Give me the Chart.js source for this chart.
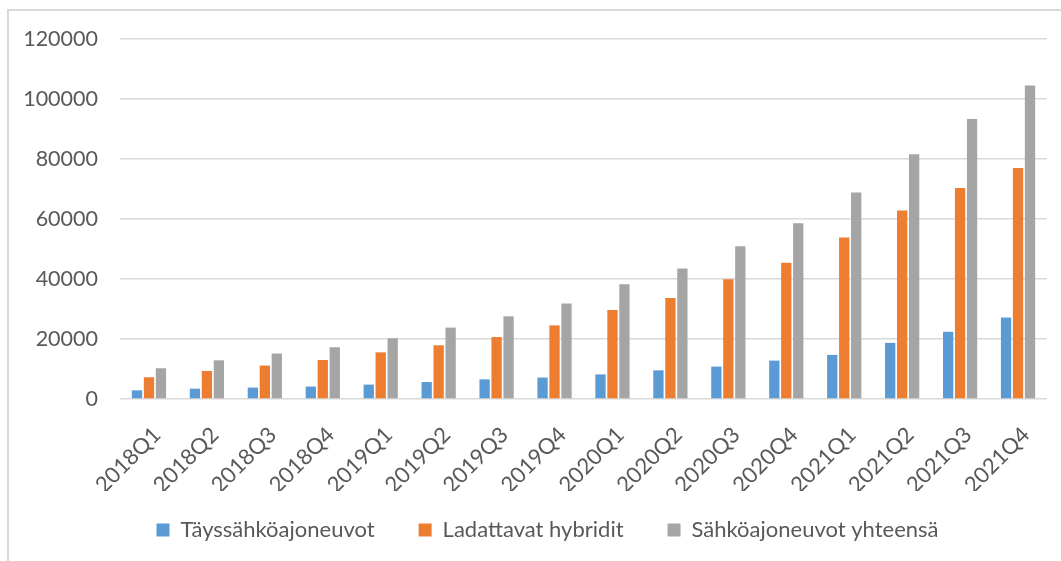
<!DOCTYPE html>
<html>
<head>
<meta charset="utf-8">
<script src="https://cdn.jsdelivr.net/npm/chart.js@4/dist/chart.umd.min.js"></script>
<style>
  html, body { margin: 0; padding: 0; background: #fff; }
  #wrap { position: relative; width: 1061px; height: 561px; overflow: hidden; }
  #frame { position: absolute; left: 7px; top: 9px; width: 1070px; height: 570px;
           border: 2px solid #d9d9d9; box-sizing: border-box; }
  canvas { position: absolute; left: 0; top: 0; }
</style>
</head>
<body>
<div id="wrap">
  <div id="frame"></div>
  <canvas id="myChart" width="1061" height="561"></canvas>
</div>
<script>
var quarters = ['2018Q1', '2018Q2', '2018Q3', '2018Q4', '2019Q1', '2019Q2', '2019Q3', '2019Q4',
                '2020Q1', '2020Q2', '2020Q3', '2020Q4', '2021Q1', '2021Q2', '2021Q3', '2021Q4'];
var taysSahko = [2900, 3450, 3800, 4150, 4800, 5650, 6550, 7150,
                 8200, 9550, 10800, 12800, 14700, 18700, 22400, 27150];
var hybridit = [7250, 9350, 11150, 13000, 15550, 17900, 20650, 24550,
                29700, 33700, 39950, 45400, 53800, 62800, 70350, 77000];
var yhteensa = [10250, 12900, 15150, 17250, 20250, 23800, 27550, 31800,
                38250, 43500, 50950, 58550, 68800, 81600, 93300, 104500];
var seriesNames = ['Täyssähköajoneuvot', 'Ladattavat hybridit', 'Sähköajoneuvot yhteensä'];
var colors = ['#5b9bd5', '#ed7d31', '#a5a5a5'];

var font = "Lato, 'Open Sans', sans-serif";
var textColor = '#595959';

function makeSet(i, values) {
    return {
        label: seriesNames[i],
        data: values,
        backgroundColor: colors[i],
        barPercentage: 0.86,
        categoryPercentage: 0.62
    };
}

// legend: fixed height, then nudged up and right after layout
var legendFix = {
    id: 'legendFix',
    beforeUpdate: function (chart) {
        if (chart.legend && !chart.legend._patched) {
            var orig = chart.legend.fit;
            chart.legend.fit = function () {
                orig.call(this);
                this.height = 70;
            };
            chart.legend._patched = true;
        }
    },
    afterLayout: function (chart) {
        var lg = chart.legend;
        lg.top -= 16; lg.bottom -= 16;
        lg.left += 24; lg.right += 24;
    }
};

var ctx = document.getElementById('myChart').getContext('2d');
var myChart = new Chart(ctx, {
    type: 'bar',
    data: {
        labels: quarters,
        datasets: [makeSet(0, taysSahko), makeSet(1, hybridit), makeSet(2, yhteensa)]
    },
    options: {
        responsive: false,
        animation: false,
        layout: { padding: { left: 0, top: 39, right: 14, bottom: 0 } },
        plugins: {
            tooltip: { enabled: false },
            legend: {
                position: 'bottom',
                labels: {
                    boxWidth: 13,
                    boxHeight: 13,
                    padding: 44,
                    color: textColor,
                    font: { family: font, size: 22 }
                }
            }
        },
        scales: {
            x: {
                grid: { display: false },
                border: { display: false },
                ticks: {
                    color: textColor,
                    font: { family: font, size: 22 },
                    minRotation: 45,
                    maxRotation: 45,
                    padding: 15,
                    labelOffset: 8
                },
                afterFit: function (scale) { scale.height = 92; }
            },
            y: {
                min: 0,
                max: 120000,
                grid: { color: '#d9d9d9', lineWidth: 1.5, drawTicks: false },
                border: { display: false },
                ticks: {
                    stepSize: 20000,
                    color: textColor,
                    font: { family: font, size: 21.5 },
                    padding: 22,
                    callback: function (v) { return String(v); }
                },
                afterFit: function (scale) { scale.width = 120; }
            }
        }
    },
    plugins: [legendFix]
});
</script>
</body>
</html>
